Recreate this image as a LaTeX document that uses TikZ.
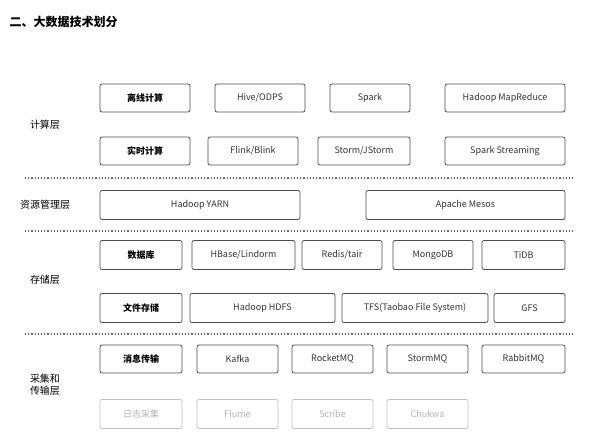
\documentclass[tikz,border=0pt]{standalone}
\usepackage{fontspec}
\setmainfont{Noto Sans CJK SC}
\begin{document}
\begin{tikzpicture}[x=1pt,y=-1pt,
  cell/.style={draw=black!70,rounded corners=2pt,line width=0.8pt,font=\fontsize{9}{10}\selectfont,text=black!80},
  head/.style={cell,font=\fontsize{9}{10}\selectfont\bfseries,text=black},
  faint/.style={cell,draw=black!25,text=black!30},
  layer/.style={font=\fontsize{10}{12}\selectfont,align=center},
  sep/.style={dotted,line width=1.2pt,black!60}]
\useasboundingbox (0,0) rectangle (600,446);
% title
\node[anchor=west,font=\fontsize{12}{14}\selectfont\bfseries] (title) at (6,22) {二、大数据技术划分};
% compute layer
\node[layer] (compute) at (45,125) {计算层};
\foreach \n/\a/\b/\s/\t in {off/100/190/head/离线计算,hive/215/305/cell/{Hive/ODPS},spark/330/410/cell/Spark,mr/445/565/cell/Hadoop MapReduce}
  \node[\s,minimum height=28pt,minimum width=\b-\a] (\n) at ({(\a+\b)/2},98) {\t};
\foreach \n/\a/\b/\s/\t in {rt/100/190/head/实时计算,flink/208/298/cell/{Flink/Blink},storm/318/410/cell/{Storm/JStorm},ss/445/565/cell/Spark Streaming}
  \node[\s,minimum height=28pt,minimum width=\b-\a] (\n) at ({(\a+\b)/2},151) {\t};
\draw[sep] (25,178) -- (575,178);
% resource layer
\node[layer] (res) at (45,205) {资源管理层};
\node[cell,minimum height=29pt,minimum width=200pt] (yarn) at (200,205) {Hadoop YARN};
\node[cell,minimum height=29pt,minimum width=199pt] (mesos) at (465.5,205) {Apache Mesos};
\draw[sep] (25,231) -- (575,231);
% storage layer
\node[layer] (store) at (45,280) {存储层};
\foreach \n/\a/\b/\s/\t in {db/100/182/head/数据库,hbase/192/295/cell/{HBase/Lindorm},redis/302/382/cell/{Redis/tair},mongo/393/473/cell/MongoDB,tidb/482/565/cell/TiDB}
  \node[\s,minimum height=29pt,minimum width=\b-\a] (\n) at ({(\a+\b)/2},255) {\t};
\foreach \n/\a/\b/\s/\t in {fs/100/182/head/文件存储,hdfs/190/335/cell/Hadoop HDFS,tfs/342/488/cell/TFS(Taobao File System),gfs/494/565/cell/GFS}
  \node[\s,minimum height=29pt,minimum width=\b-\a] (\n) at ({(\a+\b)/2},308) {\t};
\draw[sep] (25,334) -- (575,334);
% collect layer
\node[layer] (coll) at (45,385) {采集和\\传输层};
\foreach \n/\a/\b/\s/\t in {msg/100/182/head/消息传输,kafka/197/278/cell/Kafka,rocket/292/373/cell/RocketMQ,smq/387/468/cell/StormMQ,rabbit/482/565/cell/RabbitMQ}
  \node[\s,minimum height=28pt,minimum width=\b-\a] (\n) at ({(\a+\b)/2},359) {\t};
\foreach \n/\a/\b/\t in {log/100/182/日志采集,flume/197/278/Flume,scribe/292/373/Scribe,chukwa/387/468/Chukwa}
  \node[faint,minimum height=29pt,minimum width=\b-\a] (\n) at ({(\a+\b)/2},414) {\t};
\end{tikzpicture}
\end{document}
